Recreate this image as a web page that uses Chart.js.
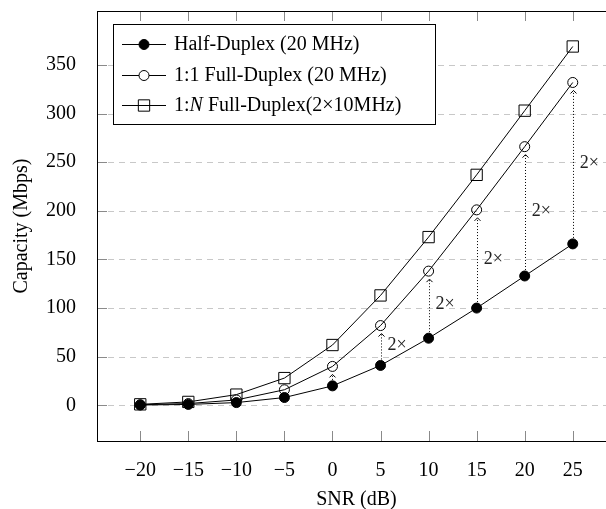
<!DOCTYPE html>
<html>
<head>
<meta charset="utf-8">
<script src="https://cdn.jsdelivr.net/npm/chart.js@4/dist/chart.umd.min.js"></script>
<style>
  html, body { margin: 0; padding: 0; overflow: hidden; background: #fff; }
</style>
</head>
<body>
<canvas id="myChart" width="630" height="509"></canvas>
<script>
// data
const snr = [-20, -15, -10, -5, 0, 5, 10, 15, 20, 25];
const halfDuplex = [0.3, 0.9, 2.8, 8, 20, 41, 69, 100, 133, 166];
const fullDuplex = [0.6, 1.8, 5.5, 16, 40, 82, 138, 201, 266, 332];
const fullDuplexN = [1, 3.5, 11, 28, 62, 113, 173, 237, 303, 369];
const yTicks = [0, 50, 100, 150, 200, 250, 300, 350];
const arrowAt = [0, 5, 10, 15, 20, 25];
const gainLabelAt = [5, 10, 15, 20, 25];
const gainText = '2×';

const serif = "'Liberation Serif', 'DejaVu Serif', serif";
const toPts = (arr) => snr.map((v, i) => ({ x: v, y: arr[i] }));

// frame, dashed grid, inside ticks, dotted 2x arrows
const extras = {
  id: 'extras',
  beforeDatasetsDraw(chart) {
    const { ctx, chartArea: a, scales: { x, y } } = chart;
    ctx.save();
    // dashed y grid
    ctx.strokeStyle = '#c8c8c8';
    ctx.lineWidth = 1;
    ctx.setLineDash([6, 5]);
    ctx.beginPath();
    yTicks.forEach((v) => {
      const py = Math.round(y.getPixelForValue(v)) + 0.5;
      ctx.moveTo(a.left, py);
      ctx.lineTo(a.right, py);
    });
    ctx.stroke();
    ctx.setLineDash([]);

    // tick marks inside the box
    ctx.strokeStyle = '#8a8a8a';
    ctx.beginPath();
    snr.forEach((v) => {
      const px = Math.round(x.getPixelForValue(v)) + 0.5;
      ctx.moveTo(px, a.bottom);
      ctx.lineTo(px, a.bottom - 10);
      ctx.moveTo(px, a.top);
      ctx.lineTo(px, a.top + 10);
    });
    yTicks.forEach((v) => {
      const py = Math.round(y.getPixelForValue(v)) + 0.5;
      ctx.moveTo(a.left, py);
      ctx.lineTo(a.left + 10, py);
      ctx.moveTo(a.right, py);
      ctx.lineTo(a.right - 10, py);
    });
    ctx.stroke();

    // frame
    ctx.strokeStyle = '#000';
    ctx.strokeRect(Math.round(a.left) + 0.5, Math.round(a.top) + 0.5,
      Math.round(a.right - a.left), Math.round(a.bottom - a.top));

    // dotted arrows from half duplex up to full duplex
    arrowAt.forEach((v) => {
      const i = snr.indexOf(v);
      const px = Math.round(x.getPixelForValue(v)) + 0.5;
      const from = y.getPixelForValue(halfDuplex[i]) - 6;
      const tip = y.getPixelForValue(fullDuplex[i]) + 8;
      ctx.strokeStyle = '#000';
      ctx.setLineDash([1, 2]);
      ctx.beginPath();
      ctx.moveTo(px, from);
      ctx.lineTo(px, tip);
      ctx.stroke();
      ctx.setLineDash([]);
      ctx.beginPath();
      ctx.moveTo(px - 3, tip + 3);
      ctx.lineTo(px, tip);
      ctx.lineTo(px + 3, tip + 3);
      ctx.stroke();
    });

    ctx.fillStyle = '#222';
    ctx.font = '18px ' + serif;
    ctx.textAlign = 'left';
    ctx.textBaseline = 'middle';
    gainLabelAt.forEach((v) => {
      const i = snr.indexOf(v);
      const px = x.getPixelForValue(v);
      const mid = y.getPixelForValue((halfDuplex[i] + fullDuplex[i]) / 2);
      ctx.fillText(gainText, px + 7, mid);
    });
    ctx.restore();
  },
  afterDraw(chart) {
    // legend box in the top left corner
    const { ctx } = chart;
    ctx.save();
    ctx.fillStyle = '#fff';
    ctx.strokeStyle = '#000';
    ctx.lineWidth = 1;
    ctx.fillRect(113.5, 24.5, 322, 100);
    ctx.strokeRect(113.5, 24.5, 322, 100);
    const rows = [44, 75, 105];
    chart.data.datasets.forEach((ds, k) => {
      const ry = rows[k];
      ctx.strokeStyle = '#000';
      ctx.beginPath();
      ctx.moveTo(122, ry + 0.5);
      ctx.lineTo(166, ry + 0.5);
      ctx.stroke();
      ctx.beginPath();
      if (ds.pointStyle === 'rect') {
        const s = ds.pointRadius * Math.SQRT1_2;
        ctx.fillStyle = '#fff';
        ctx.rect(144 - s, ry + 0.5 - s, 2 * s, 2 * s);
        ctx.fill();
        ctx.stroke();
        ctx.beginPath();
        ctx.moveTo(122, ry + 0.5);
        ctx.lineTo(166, ry + 0.5);
        ctx.stroke();
      } else {
        ctx.arc(144, ry + 0.5, ds.pointRadius, 0, Math.PI * 2);
        ctx.fillStyle = ds.pointBackgroundColor === '#000' ? '#000' : '#fff';
        ctx.fill();
        ctx.stroke();
      }
      ctx.fillStyle = '#000';
      ctx.textAlign = 'left';
      ctx.textBaseline = 'middle';
      let tx = 174;
      ds.labelParts.forEach((p) => {
        ctx.font = (p.italic ? 'italic ' : '') + '20px ' + serif;
        ctx.fillText(p.text, tx, ry + 1);
        tx += ctx.measureText(p.text).width;
      });
    });
    ctx.restore();
  }
};

const ctx = document.getElementById('myChart').getContext('2d');
const chart = new Chart(ctx, {
  type: 'line',
  data: {
    datasets: [
      {
        label: 'Half-Duplex (20 MHz)',
        labelParts: [{ text: 'Half-Duplex (20 MHz)' }],
        data: toPts(halfDuplex),
        borderColor: '#000',
        borderWidth: 1,
        pointStyle: 'circle',
        pointRadius: 5,
        pointBorderWidth: 1,
        pointBorderColor: '#000',
        pointBackgroundColor: '#000',
        order: 0,
      },
      {
        label: '1:1 Full-Duplex (20 MHz)',
        labelParts: [{ text: '1:1 Full-Duplex (20 MHz)' }],
        data: toPts(fullDuplex),
        borderColor: '#000',
        borderWidth: 1,
        pointStyle: 'circle',
        pointRadius: 5,
        pointBorderWidth: 1,
        pointBorderColor: '#000',
        pointBackgroundColor: 'rgba(0,0,0,0)',
        order: 1,
      },
      {
        label: '1:N Full-Duplex(2×10MHz)',
        labelParts: [{ text: '1:' }, { text: 'N', italic: true }, { text: ' Full-Duplex(2×10MHz)' }],
        data: toPts(fullDuplexN),
        borderColor: '#000',
        borderWidth: 1,
        pointStyle: 'rect',
        pointRadius: 8,
        pointBorderWidth: 1,
        pointBorderColor: '#000',
        pointBackgroundColor: 'rgba(0,0,0,0)',
        order: 2,
      },
    ],
  },
  options: {
    responsive: false,
    animation: false,
    layout: { padding: { top: 11, right: 14, left: 0, bottom: 0 } },
    plugins: { legend: { display: false }, tooltip: { enabled: false } },
    scales: {
      x: {
        type: 'linear',
        min: -24.5,
        max: 29.5,
        afterBuildTicks: (s) => { s.ticks = snr.map((v) => ({ value: v })); },
        afterFit: (s) => { s.height = 68; },
        grid: { display: false },
        border: { display: false },
        ticks: {
          autoSkip: false,
          maxRotation: 0,
          padding: 10,
          color: '#000',
          font: { family: serif, size: 20 },
          callback: (v) => (v < 0 ? '\u2212' + Math.abs(v) : '' + v),
        },
        title: {
          display: true,
          text: 'SNR (dB)',
          color: '#000',
          font: { family: serif, size: 20 },
          padding: { top: 0, bottom: -3 },
        },
      },
      y: {
        min: -36.7,
        max: 405.5,
        afterBuildTicks: (s) => { s.ticks = yTicks.map((v) => ({ value: v })); },
        afterFit: (s) => { s.width = 97; s.paddingTop = 0; s.paddingBottom = 0; },
        grid: { display: false },
        border: { display: false },
        ticks: {
          padding: 13,
          color: '#000',
          font: { family: serif, size: 20, lineHeight: 0.2 },
        },
        title: {
          display: true,
          text: 'Capacity (Mbps)',
          color: '#000',
          font: { family: serif, size: 20 },
          padding: { top: 10, bottom: 0 },
        },
      },
    },
  },
  plugins: [extras],
});
</script>
</body>
</html>
